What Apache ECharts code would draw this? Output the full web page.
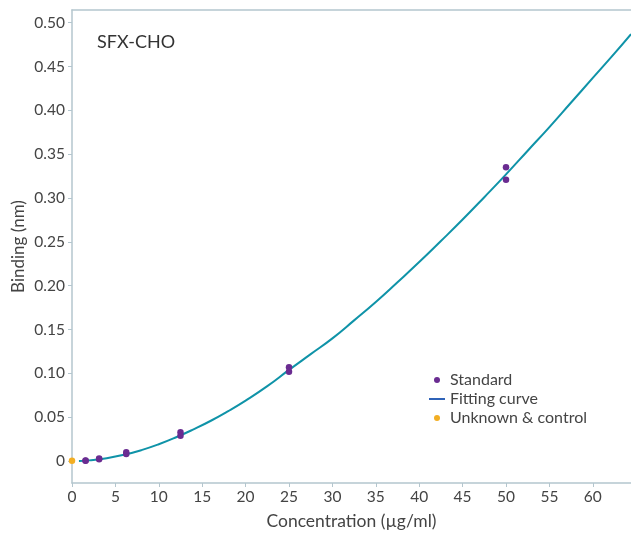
<!DOCTYPE html>
<html>
<head>
<meta charset="utf-8">
<script src="https://cdn.jsdelivr.net/npm/echarts@6/dist/echarts.min.js"></script>
<style>html,body{margin:0;padding:0;background:#fff}#c{width:631px;height:534px}</style>
</head>
<body>
<div id="c"></div>
<script>
// Standard points [concentration, binding]
const standardX = [1.5625, 1.5625, 3.125, 3.125, 6.25, 6.25, 12.5, 12.5, 25, 25, 50, 50];
const standardY = [0.0003, 0.0008, 0.0020, 0.0030, 0.0080, 0.0100, 0.0290, 0.0330, 0.1020, 0.1070, 0.3210, 0.3350];
// Unknown & control
const unknownX = [0];
const unknownY = [0.0005];
// Fitting curve
const curveX = [0.8, 2, 4, 6, 8, 10, 12, 14, 16, 18, 20, 22.5, 25, 27.5, 30, 32.5, 35, 37.5, 40, 42.5, 45, 47.5, 50, 52.5, 55, 57.5, 60, 62.5, 64.4];
const curveY = [0.0, 0.0008, 0.0033, 0.0072, 0.0125, 0.0192, 0.0272, 0.0362, 0.046, 0.057, 0.069, 0.0855, 0.104, 0.122, 0.140, 0.1605, 0.1815, 0.204, 0.227, 0.251, 0.2755, 0.301, 0.327, 0.354, 0.381, 0.409, 0.437, 0.465, 0.487];
// Tick labels
const xTicks = [0, 5, 10, 15, 20, 25, 30, 35, 40, 45, 50, 55, 60];
const yTicks = [0, 0.05, 0.10, 0.15, 0.20, 0.25, 0.30, 0.35, 0.40, 0.45, 0.50];

const zip = (a, b) => a.map((v, i) => [v, b[i]]);
const FONT = 'Lato';
const AXC = '#b4c6ce';
const TXT = '#444';

const chart = echarts.init(document.getElementById('c'));
chart.setOption({
  animation: false,
  textStyle: { fontFamily: FONT },
  title: { text: 'SFX-CHO', left: 92, top: 28, textStyle: { fontFamily: FONT, fontSize: 18, fontWeight: 'normal', color: '#333' } },
  grid: { left: 72, top: 10, right: 0, bottom: 51, containLabel: false, outerBoundsMode: 'none' },
  legend: {
    orient: 'vertical', left: 424, top: 367, itemWidth: 16, itemHeight: 6, itemGap: 3,
    textStyle: { fontFamily: FONT, fontSize: 16, color: TXT, lineHeight: 16 },
    data: [
      { name: 'Standard', icon: 'circle' },
      { name: 'Fitting curve', icon: 'path://M0,0L16,0L16,2L0,2Z', itemStyle: { color: '#2f63b8' } },
      { name: 'Unknown & control', icon: 'circle' }
    ]
  },
  xAxis: [{
    type: 'value', min: 0, max: 64.4,
    name: 'Concentration (µg/ml)', nameLocation: 'middle', nameGap: 29, nameMoveOverlap: false,
    nameTextStyle: { fontFamily: FONT, fontSize: 17.5, color: TXT },
    axisLine: { show: true, onZero: false, lineStyle: { color: AXC, width: 1.5 } },
    axisTick: { show: true, length: 4, lineStyle: { color: AXC }, customValues: xTicks },
    axisLabel: { fontFamily: FONT, fontSize: 15.5, color: TXT, margin: 6, customValues: xTicks, formatter: v => String(v) },
    splitLine: { show: false }
  }, {
    type: 'value', position: 'top', min: 0, max: 64.4,
    axisLine: { show: true, onZero: false, lineStyle: { color: AXC, width: 1.5 } },
    axisTick: { show: false }, axisLabel: { show: false }, splitLine: { show: false }
  }],
  yAxis: {
    type: 'value', min: -0.025, max: 0.5145,
    name: 'Binding (nm)', nameLocation: 'middle', nameGap: 45, nameRotate: 90, nameMoveOverlap: false,
    nameTextStyle: { fontFamily: FONT, fontSize: 17, color: TXT },
    axisLine: { show: true, onZero: false, lineStyle: { color: AXC, width: 1.5 } },
    axisTick: { show: true, length: 4, lineStyle: { color: AXC }, customValues: yTicks },
    axisLabel: { fontFamily: FONT, fontSize: 15.5, color: TXT, margin: 7, customValues: yTicks,
      formatter: v => (Math.abs(v) < 1e-9 ? '0' : v.toFixed(2)) },
    splitLine: { show: false }
  },
  series: [
    { name: 'Fitting curve', type: 'line', data: zip(curveX, curveY), smooth: true, showSymbol: false, symbol: 'none',
      lineStyle: { color: '#0f93a8', width: 2 }, itemStyle: { color: '#0f93a8' }, z: 2 },
    { name: 'Standard', type: 'scatter', data: zip(standardX, standardY), symbol: 'circle', symbolSize: 6.5,
      itemStyle: { color: '#6a2c91', opacity: 1 }, z: 3 },
    { name: 'Unknown & control', type: 'scatter', data: zip(unknownX, unknownY), symbol: 'circle', symbolSize: 6.5,
      itemStyle: { color: '#f2ae23', opacity: 1 }, clip: false, z: 3 }
  ]
});
</script>
</body>
</html>
